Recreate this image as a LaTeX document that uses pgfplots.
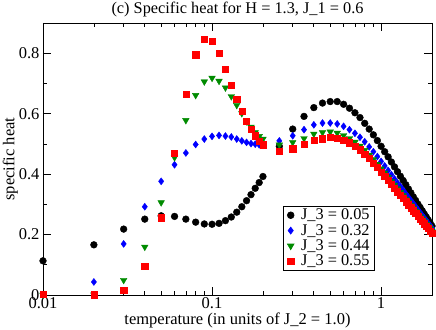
\documentclass[border=0pt]{standalone}
\usepackage{fontspec}
\setmainfont{Liberation Serif}
\usepackage{pgfplots}
\pgfplotsset{compat=1.18}
\usepackage{pgfplotstable}
\definecolor{grgreen}{RGB}{0,139,0}

% T, J3=0.05, J3=0.32, J3=0.44, J3=0.55
\pgfplotstableread{
T    a     b     c     d
0.01 0.113 0.000 0.000 0.002
0.02 0.166 0.043 0.001 0.001
0.03 0.218 0.169 0.049 0.017
0.04 0.251 0.292 0.159 0.094
0.05 0.262 0.376 0.306 0.256
0.06 0.260 0.431 0.455 0.468
0.07 0.251 0.470 0.578 0.664
0.08 0.241 0.498 0.661 0.795
0.09 0.235 0.516 0.706 0.847
0.10 0.234 0.525 0.718 0.839
0.11 0.237 0.528 0.708 0.800
0.12 0.246 0.526 0.686 0.747
0.13 0.258 0.523 0.657 0.694
0.14 0.274 0.516 0.628 0.647
0.15 0.292 0.510 0.601 0.607
0.16 0.312 0.505 0.574 0.575
0.17 0.332 0.501 0.556 0.548
0.18 0.353 0.499 0.538 0.527
0.19 0.372 0.497 0.525 0.510
0.20 0.392 0.495 0.516 0.497
0.25 0.492 0.510 0.497 0.477
0.30 0.549 0.527 0.505 0.484
0.35 0.591 0.547 0.518 0.500
0.40 0.620 0.563 0.533 0.511
0.45 0.635 0.569 0.538 0.517
0.50 0.640 0.569 0.540 0.522
0.55 0.640 0.566 0.536 0.519
0.60 0.631 0.558 0.528 0.513
0.65 0.618 0.547 0.518 0.504
0.70 0.603 0.535 0.506 0.493
0.75 0.587 0.522 0.493 0.481
0.80 0.568 0.507 0.479 0.467
0.85 0.549 0.490 0.463 0.452
0.90 0.530 0.474 0.448 0.437
0.95 0.511 0.458 0.433 0.422
1.00 0.492 0.442 0.418 0.407
1.05 0.474 0.427 0.404 0.393
1.10 0.457 0.412 0.390 0.379
1.15 0.440 0.398 0.376 0.366
1.20 0.424 0.384 0.364 0.354
1.25 0.408 0.371 0.352 0.342
1.30 0.393 0.359 0.340 0.331
1.35 0.379 0.347 0.329 0.320
1.40 0.365 0.335 0.318 0.309
1.45 0.351 0.324 0.308 0.299
1.50 0.338 0.313 0.298 0.289
1.55 0.325 0.303 0.288 0.279
1.60 0.313 0.293 0.278 0.270
1.65 0.301 0.283 0.269 0.261
1.70 0.290 0.273 0.260 0.252
1.75 0.279 0.264 0.252 0.244
1.80 0.268 0.255 0.243 0.236
1.85 0.258 0.247 0.235 0.228
1.90 0.248 0.238 0.227 0.220
1.95 0.238 0.230 0.220 0.212
2.00 0.228 0.222 0.212 0.205
}\heatdata

\begin{document}
\begin{tikzpicture}
  \begin{axis}[
      scale only axis,
      width=389pt, height=272pt,
      xmode=log,
      xmin=0.01, xmax=2,
      ymin=0, ymax=0.9,
      xtick={0.01,0.1,1},
      xticklabels={0.01,0.1,1},
      minor xtick={0.02,0.03,0.04,0.05,0.06,0.07,0.08,0.09,0.2,0.3,0.4,0.5,0.6,0.7,0.8,0.9,2},
      ytick={0,0.2,0.4,0.6,0.8},
      yticklabels={0,0.2,0.4,0.6,0.8},
      minor ytick={0.1,0.3,0.5,0.7,0.9},
      tick align=inside,
      major tick length=8pt,
      minor tick length=4pt,
      every tick/.style={black, line width=0.7pt},
      axis line style={line width=0.8pt},
      /pgf/number format/assume math mode=true,
      ticklabel style={font=\fontsize{16.5}{19}\selectfont},
      xticklabel style={yshift=1pt},
      every axis title shift=0pt,
      title={(c) Specific heat for H = 1.3, J\_1 = 0.6},
      title style={font=\fontsize{16.3}{19}\selectfont,
        at={(axis description cs:0.5,1)}, anchor=base, yshift=9pt},
      xlabel={temperature (in units of J\_2 = 1.0)},
      xlabel style={font=\fontsize{16.5}{19}\selectfont,
        at={(axis description cs:0.5,0)}, anchor=base, yshift=-30pt},
      ylabel={specific heat},
      ylabel style={font=\fontsize{16.5}{19}\selectfont,
        at={(axis description cs:-0.104,0.5)}, anchor=north, rotate=0,
        inner sep=0pt},
      legend cell align=left,
      legend style={at={(0.617,0.328)}, anchor=north west, draw=black,
        line width=0.6pt, fill=white, font=\fontsize{16.3}{19}\selectfont,
        row sep=1pt, inner ysep=2pt, inner xsep=4pt, nodes={inner sep=1pt},
        /tikz/every odd column/.append style={column sep=6pt}},
    ]
    \addplot[only marks, mark=*, mark size=3.4pt, black]
      table[x=T, y=a] {\heatdata};
    \addplot[only marks, mark=diamond*, mark size=3.5pt, blue,
      mark options={draw=blue, fill=blue}]
      table[x=T, y=b] {\heatdata};
    \addplot[only marks, mark=triangle*, mark size=3.8pt, grgreen,
      mark options={rotate=180, draw=grgreen, fill=grgreen}]
      table[x=T, y=c] {\heatdata};
    \addplot[only marks, mark=square*, mark size=3.1pt, red]
      table[x=T, y=d] {\heatdata};
    \legend{J\_3 = 0.05, J\_3 = 0.32, J\_3 = 0.44, J\_3 = 0.55}
  \end{axis}
  \pgfresetboundingbox
  \useasboundingbox ([shift={(-43pt,-35pt)}]current axis.south west)
    rectangle ([shift={(4pt,23pt)}]current axis.north east);
\end{tikzpicture}
\end{document}
